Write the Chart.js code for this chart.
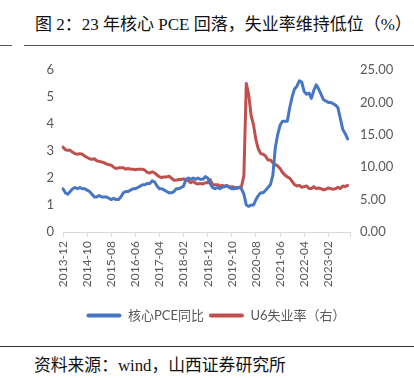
<!DOCTYPE html>
<html><head><meta charset="utf-8">
<script src="https://cdn.jsdelivr.net/npm/chart.js@4/dist/chart.umd.min.js"></script>
<style>
html,body{margin:0;padding:0;background:#fff;width:414px;height:378px;overflow:hidden;position:relative}
#title{position:absolute;left:35px;top:14px;font-size:17px;line-height:22px;font-family:"Liberation Serif","Noto Sans CJK SC";color:#111;white-space:nowrap}
#src{position:absolute;left:34px;top:355px;font-size:16.8px;line-height:22px;font-family:"Liberation Serif","Noto Sans CJK SC";color:#111;white-space:nowrap}
.rule{position:absolute;height:0;border-top:1.5px solid #555}
#wrap{position:absolute;left:0;top:50px;width:414px;height:290px}
</style></head><body>
<div id="title">图 2：23 年核心 PCE 回落，失业率维持低位（%）</div>
<div class="rule" style="left:0;width:12px;top:45px"></div>
<div class="rule" style="left:24px;width:390px;top:45px"></div>
<div id="wrap"><canvas id="c" width="414" height="290"></canvas></div>
<div class="rule" style="left:0;width:414px;top:346px;border-top-color:#333"></div>
<div id="src">资料来源：wind，山西证券研究所</div>
<script>
// Monthly categories 2013-12 .. 2023-11
const months = [];
(function(){let y=2013,m=12;while(months.length<120){months.push(y+'-'+String(m).padStart(2,'0'));m++;if(m>12){m=1;y++;}}})();

const seriesNames = ['核心PCE同比', 'U6失业率（右）'];

const corePCE = [
 1.6,
 1.45,1.4,1.5,1.6,1.65,1.6,1.65,1.6,1.6,1.55,1.5,1.4,
 1.3,1.3,1.35,1.3,1.3,1.3,1.25,1.2,1.25,1.2,1.2,1.3,
 1.45,1.5,1.5,1.55,1.6,1.6,1.65,1.7,1.75,1.75,1.8,1.8,
 1.9,1.85,1.7,1.6,1.6,1.55,1.5,1.45,1.45,1.5,1.6,1.6,
 1.65,1.7,1.95,2.0,1.95,2.0,1.95,2.0,1.95,1.95,2.05,2.0,
 1.8,1.65,1.6,1.65,1.6,1.65,1.7,1.7,1.65,1.6,1.6,1.65,
 1.65,1.6,1.4,1.0,0.95,1.0,1.0,1.2,1.35,1.45,1.45,1.55,
 1.65,1.75,2.1,3.1,3.6,3.95,4.1,4.1,4.1,4.6,5.0,5.3,
 5.4,5.6,5.55,5.2,5.1,5.15,4.95,5.25,5.45,5.3,5.1,4.9,
 4.85,4.8,4.8,4.75,4.7,4.6,4.2,3.8,3.65,3.45
];

const u6Rate = [
 13.1,
 12.7,12.6,12.6,12.3,12.1,12.0,12.1,12.0,11.7,11.5,11.3,11.2,
 11.3,11.0,10.9,10.8,10.7,10.5,10.4,10.3,10.0,9.8,9.9,9.9,
 9.9,9.7,9.8,9.7,9.7,9.6,9.7,9.7,9.7,9.5,9.2,9.1,
 9.3,9.1,8.8,8.5,8.4,8.5,8.5,8.6,8.3,8.0,8.0,8.1,
 8.1,8.2,8.0,7.9,7.6,7.8,7.5,7.4,7.5,7.4,7.6,7.6,
 8.1,7.3,7.3,7.3,7.1,7.2,7.0,7.2,6.9,7.0,6.9,6.7,
 6.9,7.0,8.7,22.9,21.2,18.0,16.5,14.2,12.8,12.1,12.0,11.7,
 11.1,11.1,10.7,10.4,10.2,9.8,9.2,8.8,8.5,8.3,7.8,7.3,
 7.1,7.2,6.9,7.0,7.1,6.7,6.7,7.0,6.7,6.8,6.7,6.5,
 6.6,6.8,6.7,6.6,6.7,6.9,6.7,7.1,7.0,7.2
];

const BLUE = '#4677c4', RED = '#c0504d', GRAY = '#595959';
const LAST = months.length - 1;

new Chart(document.getElementById('c'), {
  type: 'line',
  data: {
    labels: months,
    datasets: [
      {label: seriesNames[0], data: corePCE, yAxisID: 'y', borderColor: BLUE, backgroundColor: BLUE,
       borderWidth: 3, pointRadius: 0, tension: 0, borderJoinStyle: 'round', borderCapStyle: 'round'},
      {label: seriesNames[1], data: u6Rate, yAxisID: 'y1', borderColor: RED, backgroundColor: RED,
       borderWidth: 3, pointRadius: 0, tension: 0, borderJoinStyle: 'round', borderCapStyle: 'round'}
    ]
  },
  options: {
    responsive: false,
    animation: false,
    events: [],
    layout: {padding: {left: 18, right: 0, top: 20, bottom: 8}},
    plugins: {
      tooltip: {enabled: false},
      legend: {
        position: 'bottom',
        labels: {
          boxWidth: 35, boxHeight: 4, padding: 5,
          color: GRAY,
          font: {family: "Lato, 'Noto Sans CJK SC'", size: 13},
          generateLabels: (chart) => chart.data.datasets.map((d, i) => ({
            text: d.label, fillStyle: d.borderColor, strokeStyle: d.borderColor,
            lineWidth: 0, borderRadius: 2, datasetIndex: i, fontColor: GRAY
          }))
        }
      }
    },
    scales: {
      x: {
        type: 'category',
        offset: false,
        grid: {display: true, drawOnChartArea: false, drawTicks: true, tickLength: 5,
               color: (ctx) => (ctx.index % 10 === 0 || ctx.index === LAST) ? '#d9d9d9' : 'rgba(0,0,0,0)'},
        border: {display: true, color: '#d9d9d9', width: 1},
        ticks: {autoSkip: false, maxRotation: 90, minRotation: 90, padding: 4, color: GRAY,
                font: {family: 'Lato', size: 12},
                callback: (v, i) => (i % 10 === 0 && i < LAST) ? months[i] : ''},
        afterFit: (s) => { s.height = 72; }
      },
      y: {
        position: 'left', min: 0, max: 6,
        grid: {display: false, drawTicks: false},
        border: {display: false},
        ticks: {stepSize: 1, padding: 9, color: GRAY, font: {family: 'Lato', size: 13}},
        afterFit: (s) => { s.width = 45; }
      },
      y1: {
        position: 'right', min: 0, max: 25,
        grid: {display: false, drawTicks: false},
        border: {display: false},
        ticks: {stepSize: 5, padding: 10, color: GRAY, font: {family: 'Lato', size: 13},
                callback: (v) => Number(v).toFixed(2)},
        afterFit: (s) => { s.width = 64; }
      }
    }
  }
});
</script>
</body></html>
